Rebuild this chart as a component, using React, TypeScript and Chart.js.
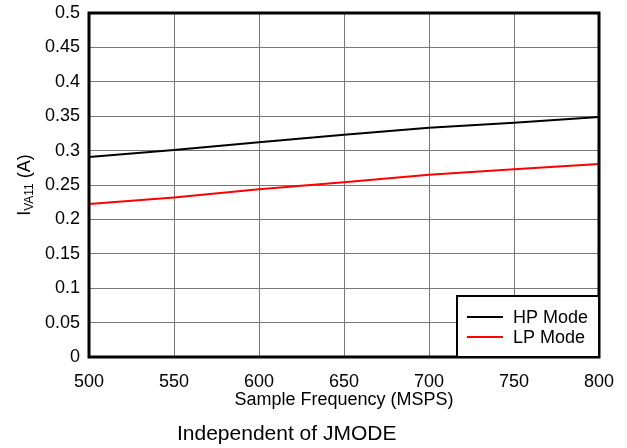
import React, { useEffect, useRef } from 'react';
import { Chart, registerables } from 'chart.js';

Chart.register(...registerables);

const frequencies = [500, 550, 600, 650, 700, 750, 800];
const hpMode = [0.2907, 0.301, 0.312, 0.3231, 0.3333, 0.3405, 0.349];
const lpMode = [0.2224, 0.232, 0.2437, 0.2539, 0.265, 0.2728, 0.2805];
const seriesLabels = ['HP Mode', 'LP Mode'];
const seriesColors = ['#000000', '#ff0000'];
const xTitle = 'Sample Frequency (MSPS)';
const yTitleMain = 'I';
const yTitleSub = 'VA11';
const yTitleTail = ' (A)';
const footnote = 'Independent of JMODE';

const FONT = '"Liberation Sans", Arial, Helvetica, sans-serif';

const overlayPlugin = {
  id: 'overlay',
  afterDraw(chart: any) {
    const ctx = chart.ctx as CanvasRenderingContext2D;
    const a = chart.chartArea;
    ctx.save();
    // frame
    ctx.strokeStyle = '#000';
    ctx.lineWidth = 3;
    ctx.strokeRect(a.left, a.top, a.right - a.left, a.bottom - a.top);

    // legend box
    const bw = 142;
    const bh = 61;
    const bx = a.right - bw;
    const by = a.bottom - bh;
    ctx.fillStyle = '#fff';
    ctx.fillRect(bx, by, bw, bh);
    ctx.lineWidth = 2;
    ctx.strokeRect(bx, by, bw, bh);
    ctx.font = `18px ${FONT}`;
    ctx.textBaseline = 'middle';
    ctx.textAlign = 'left';
    chart.data.datasets.forEach((ds: any, i: number) => {
      const y = by + 21 + i * 20;
      ctx.strokeStyle = ds.borderColor;
      ctx.lineWidth = 2;
      ctx.beginPath();
      ctx.moveTo(bx + 10, y);
      ctx.lineTo(bx + 46, y);
      ctx.stroke();
      ctx.fillStyle = '#000';
      ctx.fillText(ds.label, bx + 56, y + 1);
    });

    // y axis title with subscript
    ctx.fillStyle = '#000';
    ctx.translate(30, (a.top + a.bottom) / 2);
    ctx.rotate(-Math.PI / 2);
    ctx.textBaseline = 'alphabetic';
    const mainFont = `18px ${FONT}`;
    const subFont = `12px ${FONT}`;
    ctx.font = mainFont;
    const w1 = ctx.measureText(yTitleMain).width;
    const w3 = ctx.measureText(yTitleTail).width;
    ctx.font = subFont;
    const w2 = ctx.measureText(yTitleSub).width;
    let x = -(w1 + w2 + w3) / 2;
    ctx.font = mainFont;
    ctx.fillText(yTitleMain, x, 0);
    x += w1;
    ctx.font = subFont;
    ctx.fillText(yTitleSub, x, 3);
    x += w2;
    ctx.font = mainFont;
    ctx.fillText(yTitleTail, x, 0);
    ctx.restore();

    // footnote
    ctx.save();
    ctx.fillStyle = '#000';
    ctx.font = `21px ${FONT}`;
    ctx.textAlign = 'left';
    ctx.textBaseline = 'middle';
    ctx.fillText(footnote, 177, 434);
    ctx.restore();
  },
};

export default function App() {
  const ref = useRef<HTMLCanvasElement | null>(null);
  useEffect(() => {
    if (!ref.current) return;
    const chart = new Chart(ref.current, {
      type: 'line',
      data: {
        datasets: [
          {
            label: seriesLabels[0],
            data: frequencies.map((f, i) => ({ x: f, y: hpMode[i] })),
            borderColor: seriesColors[0],
            backgroundColor: seriesColors[0],
            borderWidth: 2,
            pointRadius: 0,
            tension: 0,
          },
          {
            label: seriesLabels[1],
            data: frequencies.map((f, i) => ({ x: f, y: lpMode[i] })),
            borderColor: seriesColors[1],
            backgroundColor: seriesColors[1],
            borderWidth: 2,
            pointRadius: 0,
            tension: 0,
          },
        ],
      },
      options: {
        animation: false,
        responsive: false,
        devicePixelRatio: 1,
        layout: { padding: { left: 0, right: 28, top: 13, bottom: 0 } },
        plugins: {
          legend: { display: false },
          tooltip: { enabled: false },
          title: { display: false },
        },
        scales: {
          x: {
            type: 'linear',
            min: 500,
            max: 800,
            afterFit: (s: any) => {
              s.height = 91;
              s.paddingLeft = 0;
              s.paddingRight = 0;
            },
            ticks: {
              stepSize: 50,
              color: '#000',
              padding: 14,
              maxRotation: 0,
              font: { family: FONT, size: 18 },
              callback: (v: any) => String(v),
            },
            grid: { color: '#777', lineWidth: 1, drawTicks: false },
            border: { display: false },
            title: {
              display: true,
              text: xTitle,
              color: '#000',
              font: { family: FONT, size: 18 },
              padding: { top: 0, bottom: 37 },
            },
          },
          y: {
            min: 0,
            max: 0.5,
            afterFit: (s: any) => {
              s.width = 89;
              s.paddingTop = 0;
              s.paddingBottom = 0;
            },
            ticks: {
              stepSize: 0.05,
              color: '#000',
              padding: 9,
              font: { family: FONT, size: 18 },
              callback: (v: any) => String(+Number(v).toFixed(2)),
            },
            grid: { color: '#777', lineWidth: 1, drawTicks: false },
            border: { display: false },
          },
        },
      },
      plugins: [overlayPlugin],
    } as any);
    return () => chart.destroy();
  }, []);
  return (
    <div style={{ position: 'fixed', left: 0, top: 0, width: 627, height: 448, background: '#fff' }}>
      <canvas ref={ref} width={627} height={448} style={{ display: 'block', width: 627, height: 448 }} />
    </div>
  );
}
